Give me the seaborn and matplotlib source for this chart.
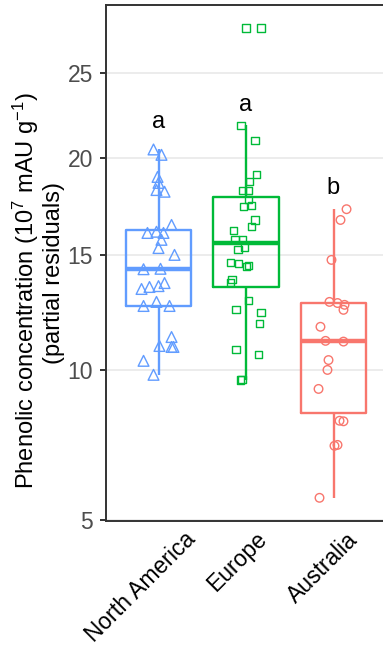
import numpy as np
import pandas as pd
import matplotlib
matplotlib.use("Agg")
import matplotlib.pyplot as plt
import seaborn as sns
from matplotlib.transforms import ScaledTranslation

# ---------------- data ----------------
regions = ["North America", "Europe", "Australia"]
colors = ["#619CFF", "#00BA38", "#F8766D"]
markers = ["^", "s", "o"]
letters = ["a", "a", "b"]
letter_y = [22.06, 23.07, 18.40]

na_values = [20.5, 20.2, 18.99, 18.67, 18.29, 18.2, 16.49, 16.09, 16.15, 16.09,
             15.75, 15.35, 15.02, 14.34, 14.36, 13.43, 13.52, 13.56, 13.70,
             12.67, 12.85, 12.67, 11.34, 10.97, 10.93, 10.93, 10.37, 9.82]
na_jitter = [-0.057, 0.034, -0.011, 0.0, -0.023, 0.069, 0.149, -0.126, -0.023, 0.057,
             0.034, 0.0, 0.183, -0.171, 0.023, -0.194, -0.103, 0.0, 0.069,
             -0.171, -0.023, 0.126, 0.149, 0.011, 0.149, 0.171, -0.171, -0.057]

eu_values = [27.87, 27.87, 21.89, 21.03, 19.11, 18.74, 18.25, 18.28, 17.81, 17.42,
             17.48, 16.74, 16.4, 16.2, 15.75, 15.75, 15.3, 15.4, 14.65, 14.59,
             14.47, 14.5, 13.87, 13.72, 12.90, 12.53, 12.38, 11.92, 10.81, 10.64,
             9.62, 9.65]
eu_jitter = [0.0, 0.171, -0.057, 0.103, 0.122, 0.038, -0.038, 0.031, 0.026, -0.026,
             0.061, 0.103, 0.061, -0.145, -0.126, -0.038, -0.091, -0.019, -0.179, -0.083,
             0.008, 0.026, -0.160, -0.179, 0.026, -0.114, 0.171, 0.152, -0.114, 0.141,
             -0.065, -0.046]

au_values = [17.29, 16.74, 14.78, 12.85, 12.8, 12.72, 12.50, 11.77, 11.18, 11.15,
             10.40, 10.01, 9.28, 8.12, 8.10, 7.26, 7.29, 5.63]
au_jitter = [0.149, 0.08, -0.023, -0.046, 0.046, 0.126, 0.114, -0.149, -0.091, 0.114,
             -0.057, -0.069, -0.171, 0.069, 0.114, 0.011, 0.046, -0.16]

yticks = [5, 10, 15, 20, 25]
ylabel_lines = ["Phenolic concentration (10$^7$ mAU g$^{-1}$)", "(partial residuals)"]

frames = []
for i, (r, v, j) in enumerate(zip(regions, [na_values, eu_values, au_values],
                                  [na_jitter, eu_jitter, au_jitter])):
    frames.append(pd.DataFrame({"region": r, "value": v, "xpos": i + np.array(j)}))
df = pd.concat(frames, ignore_index=True)
df["region"] = pd.Categorical(df["region"], categories=regions, ordered=True)

# ---------------- style ----------------
sns.set_style("white")
plt.rcParams["font.family"] = ["Liberation Sans", "DejaVu Sans"]
plt.rcParams["mathtext.default"] = "regular"

W, H = 383, 651
fig = plt.figure(figsize=(W / 100, H / 100), dpi=100)
ax = fig.add_axes([106 / W, 130 / H, 284 / W, 516 / H])

pal = dict(zip(regions, colors))
sns.boxplot(data=df, x="region", y="value", hue="region", order=regions,
            hue_order=regions, palette=pal, fill=False, width=0.75,
            linewidth=1.7, showfliers=False, showcaps=False, whis=1.5,
            medianprops={"linewidth": 3.2}, legend=False, ax=ax)

for r, c, m, s in zip(regions, colors, markers, [60, 26, 38]):
    sub = df[df["region"] == r]
    sns.scatterplot(x=sub["xpos"].to_numpy(), y=sub["value"].to_numpy(), marker=m,
                    s=s, facecolor="none", edgecolor=c, linewidth=1.0,
                    ax=ax, legend=False, zorder=3)

for i, (t, yy) in enumerate(zip(letters, letter_y)):
    ax.text(i, yy, t, ha="center", va="center", fontsize=17, color="black")

ax.set_yscale("function", functions=(lambda v: np.sqrt(np.clip(v, 0, None)), np.square))
ax.set_ylim(4.97, 29.39)
ax.set_xlim(-0.6, 2.6 + 4 / 87.5)
ax.set_yticks(yticks)
ax.set_yticklabels([str(t) for t in yticks])
ax.yaxis.set_minor_locator(matplotlib.ticker.NullLocator())
ax.yaxis.grid(True, color="#EBEBEB", linewidth=1.3)
ax.xaxis.grid(False)
ax.set_axisbelow(True)

for sp in ax.spines.values():
    sp.set_color("#333333")
    sp.set_linewidth(1.4)

ax.tick_params(axis="y", length=4.5, width=1.4, color="#333333", labelsize=16.5,
               labelcolor="#4D4D4D", pad=5, left=True)
ax.tick_params(axis="x", length=0, pad=5, labelsize=16.5, labelcolor="black")

ax.set_xlabel("")
ax.set_ylabel("")
# two-line axis title
fig.text(33.5 / W, 1 - 291 / H, ylabel_lines[0], rotation=90, rotation_mode="anchor",
         ha="center", va="baseline", fontsize=17, color="black")
fig.text(60 / W, 1 - 273 / H, ylabel_lines[1], rotation=90, rotation_mode="anchor",
         ha="center", va="baseline", fontsize=17, color="black")

ax.set_xticks(range(len(regions)))
ax.set_xticklabels(regions, rotation=45, rotation_mode="anchor", ha="right", va="top")

fig.canvas.draw()
renderer = fig.canvas.get_renderer()
for lab in ax.get_xticklabels():
    tmp = fig.text(0, 0, lab.get_text(), fontsize=lab.get_fontsize(),
                   fontfamily=lab.get_fontfamily())
    w = tmp.get_window_extent(renderer).width
    tmp.remove()
    dx = 0.33 * w * np.cos(np.pi / 4) - 8
    lab.set_transform(lab.get_transform() + ScaledTranslation(dx / fig.dpi, 0, fig.dpi_scale_trans))

fig.savefig("out.png", dpi=100)
